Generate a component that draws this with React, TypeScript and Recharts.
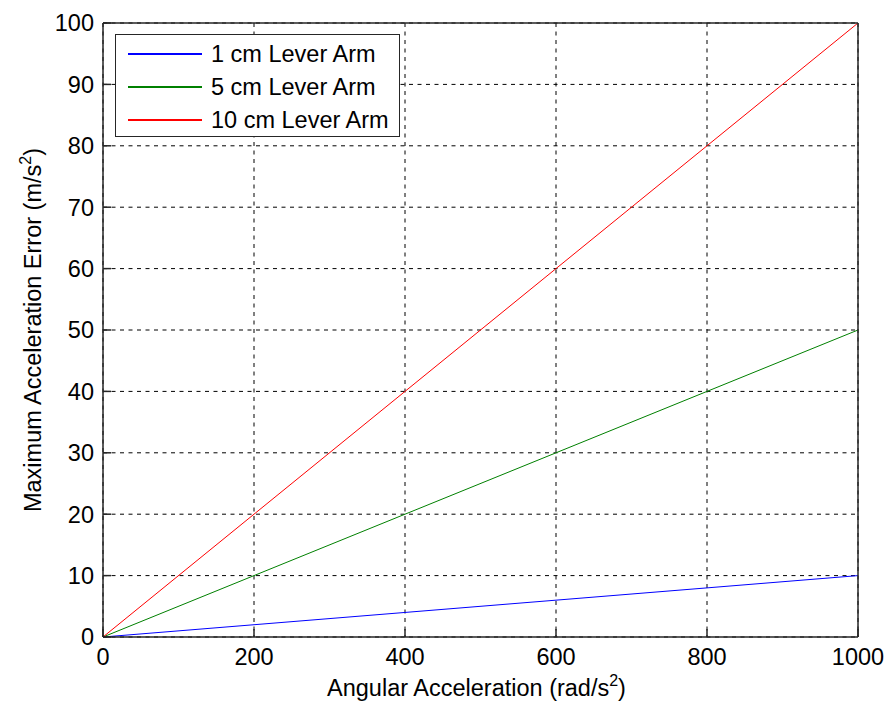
import { LineChart, Line, XAxis, YAxis, CartesianGrid, Legend, Label } from 'recharts';

// values
const angularAccel = [0, 200, 400, 600, 800, 1000];
const err1cm = [0, 2, 4, 6, 8, 10];
const err5cm = [0, 10, 20, 30, 40, 50];
const err10cm = [0, 20, 40, 60, 80, 100];

const xTicks = [0, 200, 400, 600, 800, 1000];
const yTicks = [0, 10, 20, 30, 40, 50, 60, 70, 80, 90, 100];

const series = [
  { key: 'a1', name: '1 cm Lever Arm', color: '#0000ff', values: err1cm },
  { key: 'a5', name: '5 cm Lever Arm', color: '#008000', values: err5cm },
  { key: 'a10', name: '10 cm Lever Arm', color: '#ff0000', values: err10cm },
];

const data = angularAccel.map((x, i) => {
  const row: Record<string, number> = { x };
  series.forEach((s) => {
    row[s.key] = s.values[i];
  });
  return row;
});

const FONT = '"Liberation Sans", Arial, sans-serif';
const FS = 23.5;
const INK = '#262626';
const TICK_LEN = 8;

const XTick = (props: any) => {
  const { x, y, payload } = props;
  return (
    <g>
      <line x1={x} y1={y} x2={x} y2={y - TICK_LEN} stroke={INK} strokeWidth={1.5} />
      <text x={x} y={y + 28} textAnchor="middle" fontFamily={FONT} fontSize={FS} fill="#000">
        {payload.value}
      </text>
    </g>
  );
};

const YTick = (props: any) => {
  const { x, y, payload } = props;
  return (
    <g>
      <line x1={x} y1={y} x2={x + TICK_LEN} y2={y} stroke={INK} strokeWidth={1.5} />
      <text x={x - 9} y={y} dy="0.36em" textAnchor="end" fontFamily={FONT} fontSize={FS} fill="#000">
        {payload.value}
      </text>
    </g>
  );
};

const XTitle = (props: any) => {
  const { viewBox } = props;
  const cx = viewBox.x + viewBox.width / 2 - 4;
  return (
    <text x={cx} y={viewBox.y + 59} textAnchor="middle" fontFamily={FONT} fontSize={FS} fill="#000">
      Angular Acceleration (rad/s
      <tspan dy={-10} fontSize={16}>2</tspan>
      <tspan dy={10}>)</tspan>
    </text>
  );
};

const YTitle = (props: any) => {
  const { viewBox } = props;
  const cy = viewBox.y + viewBox.height / 2;
  const bx = 41;
  return (
    <text
      x={bx}
      y={cy}
      transform={`rotate(-90, ${bx}, ${cy})`}
      textAnchor="middle"
      fontFamily={FONT}
      fontSize={FS}
      fill="#000"
    >
      Maximum Acceleration Error (m/s
      <tspan dy={-10} fontSize={16}>2</tspan>
      <tspan dy={10}>)</tspan>
    </text>
  );
};

const LegendBox = () => (
  <div
    style={{
      width: 283,
      height: 99,
      border: `1px solid ${INK}`,
      background: '#fff',
      paddingTop: 2,
      fontFamily: FONT,
      fontSize: FS,
      color: '#000',
      boxSizing: 'content-box',
    }}
  >
    {series.map((s) => (
      <div key={s.key} style={{ display: 'flex', alignItems: 'center', height: 33 }}>
        <svg width={74} height={4} style={{ marginLeft: 12, marginRight: 9, display: 'block' }}>
          <line x1={0} y1={2} x2={74} y2={2} stroke={s.color} strokeWidth={1.5} shapeRendering="crispEdges" />
        </svg>
        <span style={{ lineHeight: '24px' }}>{s.name}</span>
      </div>
    ))}
  </div>
);

export default function App() {
  return (
    <div style={{ position: 'absolute', left: 0, top: 0, width: 887, height: 709, background: '#fff' }}>
      <LineChart width={887} height={709} data={data} margin={{ top: 23, right: 29, bottom: 22, left: 23 }}>
        <CartesianGrid
          xAxisId="b"
          yAxisId="l"
          stroke="#000"
          strokeDasharray="4 4.5"
          strokeWidth={1}
        />
        <XAxis
          xAxisId="b"
          dataKey="x"
          type="number"
          domain={[0, 1000]}
          ticks={xTicks}
          height={50}
          tickSize={0}
          tickMargin={0}
          tickLine={false}
          tick={<XTick />}
          axisLine={{ stroke: INK, strokeWidth: 1.5 }}
          interval={0}
        >
          <Label content={<XTitle />} />
        </XAxis>
        <XAxis
          xAxisId="t"
          dataKey="x"
          type="number"
          orientation="top"
          mirror
          domain={[0, 1000]}
          ticks={xTicks}
          height={1}
          tickSize={TICK_LEN}
          tick={false}
          tickLine={{ stroke: INK, strokeWidth: 1.5 }}
          axisLine={{ stroke: INK, strokeWidth: 1.5 }}
          interval={0}
        />
        <YAxis
          yAxisId="l"
          type="number"
          domain={[0, 100]}
          ticks={yTicks}
          width={80}
          tickSize={0}
          tickMargin={0}
          tickLine={false}
          tick={<YTick />}
          axisLine={{ stroke: INK, strokeWidth: 1.5 }}
          interval={0}
        >
          <Label content={<YTitle />} />
        </YAxis>
        <YAxis
          yAxisId="r"
          type="number"
          orientation="right"
          mirror
          domain={[0, 100]}
          ticks={yTicks}
          width={1}
          tickSize={TICK_LEN}
          tick={false}
          tickLine={{ stroke: INK, strokeWidth: 1.5 }}
          axisLine={{ stroke: INK, strokeWidth: 1.5 }}
          interval={0}
        />
        {series.map((s) => (
          <Line
            key={s.key}
            xAxisId="b"
            yAxisId="l"
            type="linear"
            dataKey={s.key}
            name={s.name}
            stroke={s.color}
            strokeWidth={1}
            dot={false}
            activeDot={false}
            isAnimationActive={false}
          />
        ))}
        <Legend
          layout="vertical"
          align="center"
          verticalAlign="middle"
          content={<LegendBox />}
          wrapperStyle={{ left: 115, top: 34, width: 'auto', height: 'auto' }}
        />
      </LineChart>
    </div>
  );
}
